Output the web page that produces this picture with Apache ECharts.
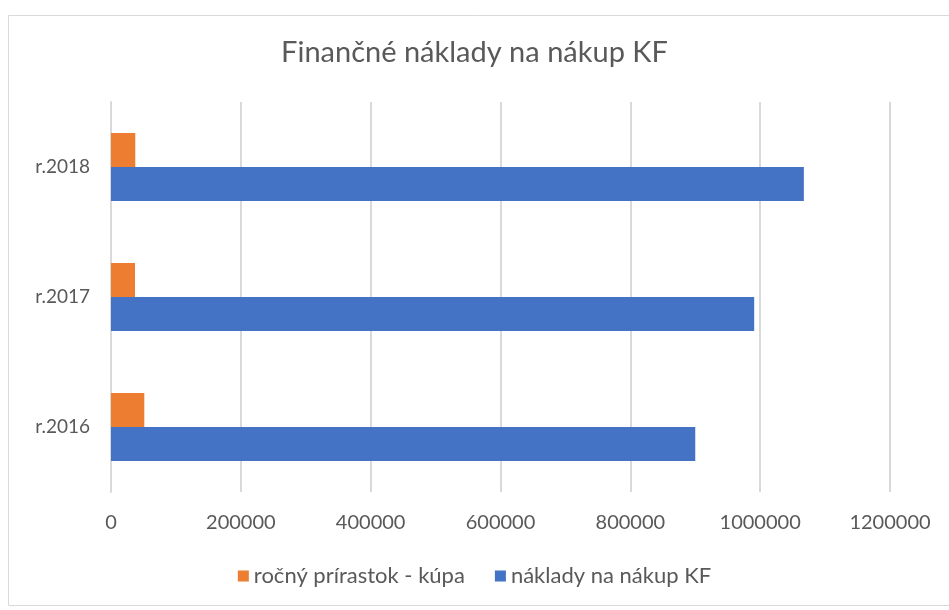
<!DOCTYPE html>
<html>
<head>
<meta charset="utf-8">
<script src="https://cdn.jsdelivr.net/npm/echarts@6/dist/echarts.min.js"></script>
<style>
  html, body { margin: 0; padding: 0; background: #fff; }
  #chart { width: 949px; height: 610px; }
</style>
</head>
<body>
<div id="chart"></div>
<script>
// data
var roky = ['r.2016', 'r.2017', 'r.2018'];
var prirastok = [51300, 37000, 37400];      // ročný prírastok - kúpa
var naklady = [900000, 990800, 1067300];    // náklady na nákup KF
var osX = [0, 200000, 400000, 600000, 800000, 1000000, 1200000];

var font = 'Lato, "Open Sans", sans-serif';

window.onload = function() {
    var myChart = echarts.init(document.getElementById('chart'));
    var option = {
        animation: false,
        graphic: [{
            type: 'rect',
            shape: { x: 8.5, y: 15.5, width: 960, height: 590 },
            style: { fill: 'none', stroke: '#d9d9d9', lineWidth: 1 },
            silent: true
        }],
        title: {
            text: 'Finančné náklady na nákup KF',
            left: 'center',
            top: 33,
            textStyle: { fontFamily: font, fontSize: 29, fontWeight: 'normal', color: '#595959' }
        },
        legend: {
            bottom: 18,
            left: 'center',
            itemWidth: 11,
            itemHeight: 11,
            itemGap: 30,
            icon: 'rect',
            textStyle: { fontFamily: font, fontSize: 22, color: '#595959' },
            data: ['ročný prírastok - kúpa', 'náklady na nákup KF']
        },
        grid: { left: 111, right: 59, top: 102, bottom: 118, containLabel: false },
        xAxis: {
            type: 'value',
            min: osX[0],
            max: osX[osX.length - 1],
            interval: 200000,
            axisLine: { show: false },
            axisTick: { show: false },
            axisLabel: {
                fontFamily: font, fontSize: 20, color: '#595959', margin: 21,
                formatter: function(v) { return String(v); }
            },
            splitLine: { lineStyle: { color: '#d9d9d9', width: 2 } }
        },
        yAxis: {
            type: 'category',
            data: roky,
            axisLine: { show: true, lineStyle: { color: '#d9d9d9', width: 2 } },
            axisTick: { show: false },
            axisLabel: { fontFamily: font, fontSize: 19, color: '#595959', margin: 21 }
        },
        series: [{
            name: 'ročný prírastok - kúpa',
            type: 'bar',
            data: prirastok,
            barWidth: 34,
            barGap: '0%',
            barCategoryGap: '47.7%',
            itemStyle: { color: '#ed7d31' }
        }, {
            name: 'náklady na nákup KF',
            type: 'bar',
            data: naklady,
            barWidth: 34,
            barGap: '0%',
            itemStyle: { color: '#4472c4' }
        }]
    };
    myChart.setOption(option);
};
</script>
</body>
</html>
